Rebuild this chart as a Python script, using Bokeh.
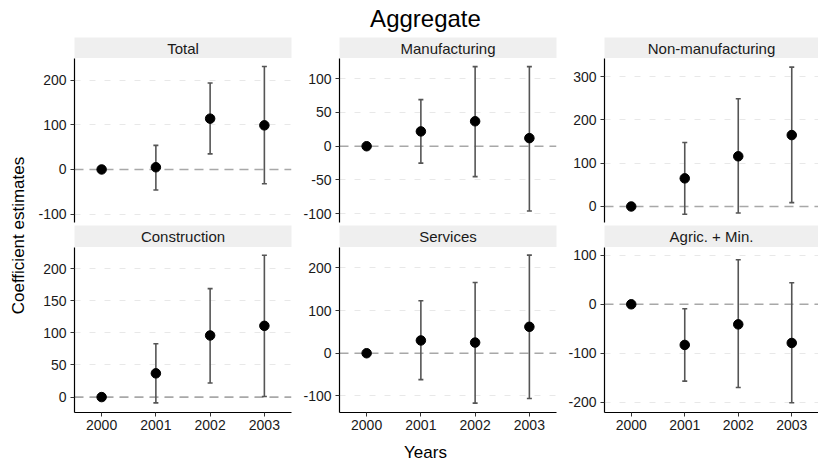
from math import pi

from bokeh.core.properties import value
from bokeh.embed import file_html
from bokeh.layouts import column, row
from bokeh.models import ColumnDataSource, FixedTicker, Span, TeeHead, Whisker
from bokeh.plotting import figure
from bokeh.resources import INLINE

# ---- data -------------------------------------------------------------
years = [2000, 2001, 2002, 2003]

sectors = ["Total", "Manufacturing", "Non-manufacturing",
           "Construction", "Services", "Agric. + Min."]

est_total = [0, 5, 114, 99]
lo_total = [0, -46, 35, -32]
hi_total = [0, 54, 194, 231]

est_manuf = [0, 22, 37, 12]
lo_manuf = [0, -25, -45, -96]
hi_manuf = [0, 69, 118, 118]

est_nonmanuf = [0, 65, 116, 165]
lo_nonmanuf = [0, -18, -15, 9]
hi_nonmanuf = [0, 148, 249, 322]

est_constr = [0, 37, 96, 111]
lo_constr = [0, -9, 22, 1]
hi_constr = [0, 83, 169, 221]

est_serv = [0, 30, 25, 62]
lo_serv = [0, -62, -117, -106]
hi_serv = [0, 123, 166, 230]

est_agric = [0, -83, -41, -79]
lo_agric = [0, -157, -170, -201]
hi_agric = [0, -9, 91, 44]

y_ticks = [
    [-100, 0, 100, 200],
    [-100, -50, 0, 50, 100],
    [0, 100, 200, 300],
    [0, 50, 100, 150, 200],
    [-100, 0, 100, 200],
    [-200, -100, 0, 100],
]

y_limits = [(-119, 249), (-113, 130), (-37, 342),
            (-24, 233), (-139, 248), (-221, 116)]

series = [
    (est_total, lo_total, hi_total),
    (est_manuf, lo_manuf, hi_manuf),
    (est_nonmanuf, lo_nonmanuf, hi_nonmanuf),
    (est_constr, lo_constr, hi_constr),
    (est_serv, lo_serv, hi_serv),
    (est_agric, lo_agric, hi_agric),
]

# ---- styling ----------------------------------------------------------
FONT = "Liberation Sans"
TEXT = "#1a1a1a"
BAR = "#555555"
STRIP_BG = "#efefef"

LEFT = 45
FRAME_W = [217, 217, 214]
RIGHT = [3, 3, 0]
BOTTOM_AXIS = 26


def strip(label, i, h):
    s = figure(width=LEFT + FRAME_W[i] + RIGHT[i], height=h,
               x_range=(0, 1), y_range=(0, 1), title=None,
               x_axis_type=None, y_axis_type=None,
               output_backend="svg", toolbar_location=None,
               min_border_left=LEFT, min_border_right=RIGHT[i],
               min_border_top=0, min_border_bottom=0)
    s.outline_line_color = None
    s.background_fill_color = STRIP_BG
    s.grid.visible = False
    s.text(x=[0.5], y=[0.5], text=[label], text_align="center",
           text_baseline="middle", text_font=value(FONT),
           text_font_size="15px", text_color=TEXT)
    return s


def panel(k, i, bottom_row):
    est, lo, hi = series[k]
    h = 165 + BOTTOM_AXIS if bottom_row else 164 + 3
    p = figure(width=LEFT + FRAME_W[i] + RIGHT[i], height=h,
               x_range=(1999.5, 2003.5), y_range=y_limits[k], title=None,
               output_backend="svg", toolbar_location=None,
               min_border_left=LEFT, min_border_right=RIGHT[i],
               min_border_top=0,
               min_border_bottom=BOTTOM_AXIS if bottom_row else 3)
    p.outline_line_color = None
    p.xgrid.visible = False
    p.ygrid.ticker = FixedTicker(ticks=y_ticks[k])
    p.ygrid.grid_line_color = "#e8e8e8"
    p.ygrid.grid_line_dash = "6 9"
    p.ygrid.grid_line_width = 1

    for ax in (p.yaxis, p.xaxis):
        ax.axis_line_color = "black"
        ax.axis_line_width = 1.2
        ax.major_tick_line_color = "#333333"
        ax.major_tick_out = 4
        ax.major_tick_in = 0
        ax.minor_tick_line_color = None
        ax.major_label_text_font = FONT
        ax.major_label_text_font_size = "14px"
        ax.major_label_text_color = TEXT
    p.yaxis.ticker = FixedTicker(ticks=y_ticks[k])
    # plain hyphen-minus for negative tick labels
    p.yaxis.major_label_overrides = {t: str(t) for t in y_ticks[k]}
    p.yaxis.major_label_standoff = 4
    p.xaxis.ticker = FixedTicker(ticks=years)
    p.xaxis.major_label_overrides = {y: str(y) for y in years}
    p.xaxis.major_label_standoff = 3
    p.xaxis.visible = bottom_row

    zero = Span(location=0, dimension="width", line_color="#a8a8a8",
                line_width=1.6, line_dash="9 6", level="underlay")
    p.add_layout(zero)

    src = ColumnDataSource(dict(year=years, est=est, lo=lo, hi=hi))
    w = Whisker(base="year", lower="lo", upper="hi", source=src,
                line_color=BAR, line_width=1.6, level="underlay",
                upper_head=TeeHead(size=5, line_color=BAR, line_width=1.6),
                lower_head=TeeHead(size=5, line_color=BAR, line_width=1.6))
    p.add_layout(w)
    p.scatter(x="year", y="est", source=src, size=9.5,
              fill_color="black", line_color="black")
    return p


top_strips = row(*[strip(sectors[i], i, 21) for i in range(3)])
top_panels = row(*[panel(i, i, False) for i in range(3)])
bot_strips = row(*[strip(sectors[3 + i], i, 22) for i in range(3)])
bot_panels = row(*[panel(3 + i, i, True) for i in range(3)])
grid = column(top_strips, top_panels, bot_strips, bot_panels)

GRID_H = 21 + 167 + 22 + 165 + BOTTOM_AXIS
XLAB_H = 463 - 37 - GRID_H

# overall title
title_fig = figure(width=818, height=37, x_range=(0, 818), y_range=(0, 37),
                   title=None, x_axis_type=None, y_axis_type=None,
                   output_backend="svg", toolbar_location=None,
                   min_border=0)
title_fig.outline_line_color = None
title_fig.grid.visible = False
title_fig.text(x=[425], y=[19], text=["Aggregate"], text_align="center",
               text_baseline="middle", text_font=value(FONT),
               text_font_size="24px", text_color="black")

# shared y-axis title
ylab_fig = figure(width=29, height=GRID_H, x_range=(0, 29),
                  y_range=(0, GRID_H), title=None,
                  x_axis_type=None, y_axis_type=None,
                  output_backend="svg", toolbar_location=None,
                  min_border=0)
ylab_fig.outline_line_color = None
ylab_fig.grid.visible = False
ylab_fig.text(x=[18], y=[GRID_H - 198], text=["Coefficient estimates"],
              angle=pi / 2, text_align="center", text_baseline="middle",
              text_font=value(FONT), text_font_size="17px",
              text_color="black")

# shared x-axis title
xlab_fig = figure(width=818, height=XLAB_H, x_range=(0, 818),
                  y_range=(0, XLAB_H), title=None,
                  x_axis_type=None, y_axis_type=None,
                  output_backend="svg", toolbar_location=None,
                  min_border=0)
xlab_fig.outline_line_color = None
xlab_fig.grid.visible = False
xlab_fig.text(x=[425], y=[11], text=["Years"], text_align="center",
              text_baseline="middle", text_font=value(FONT),
              text_font_size="17px", text_color="black")

layout = column(title_fig, row(ylab_fig, grid), xlab_fig)

open("out.html", "w").write(file_html(layout, INLINE))
